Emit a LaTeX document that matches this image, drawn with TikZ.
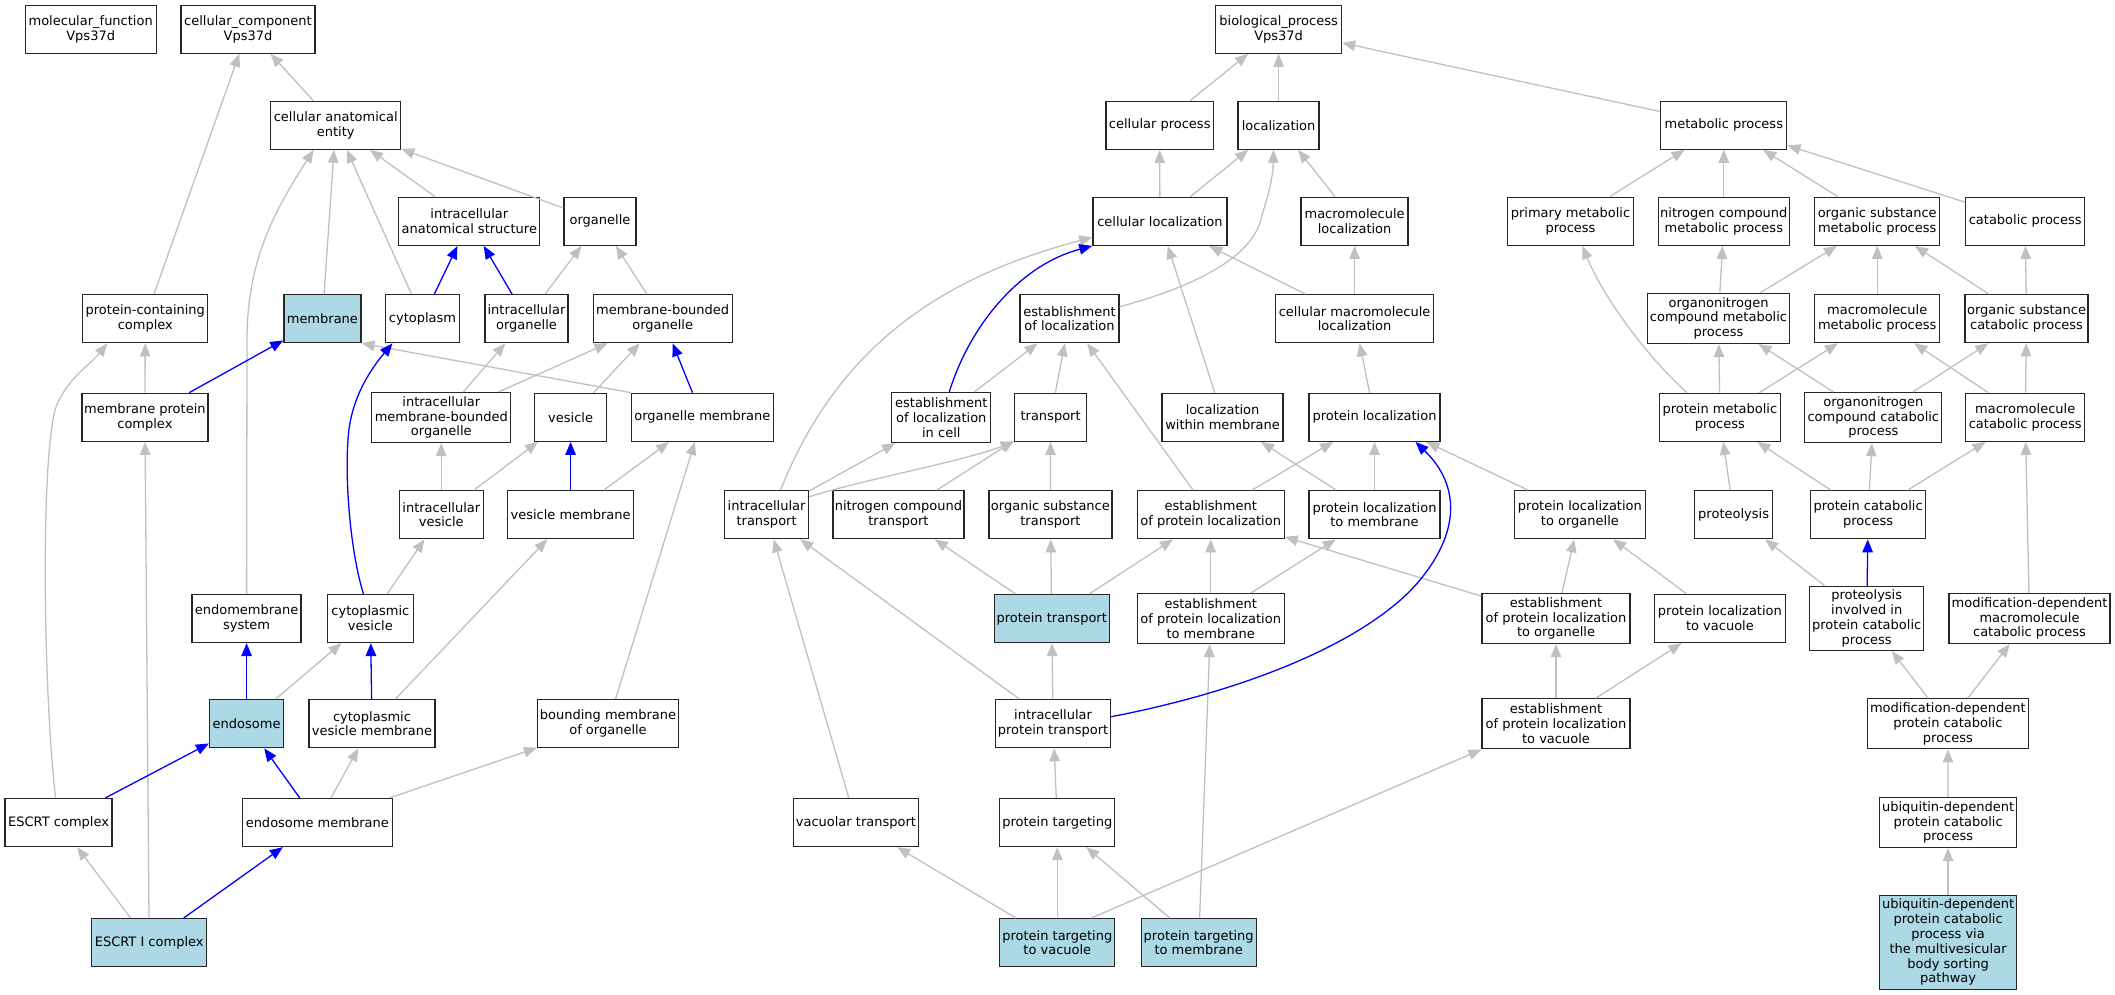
\documentclass[tikz,border=0pt]{standalone}
\usepackage{fontspec}
\setmainfont{DejaVu Sans}
\usetikzlibrary{arrows.meta}
\definecolor{edgegray}{RGB}{192,192,192}
\definecolor{hilite}{RGB}{173,216,230}
\begin{document}
\begin{tikzpicture}[x=1pt,y=-1pt,
  nd/.style={draw=black!85, line width=1.3pt, fill=white, align=center, inner sep=1.5pt,
     font=\fontsize{13}{14.8}\selectfont, minimum height=48pt, rectangle},
  hl/.style={nd, fill=hilite},
  ge/.style={draw=edgegray, line width=1.3pt, -{Triangle[length=13pt,width=10.5pt]}},
  be/.style={draw=blue, line width=1.3pt, -{Triangle[length=13pt,width=10.5pt]}}]
\fill[white] (0,0) rectangle (2115,995);
\useasboundingbox (0,0) rectangle (2115,995);

% ---------- cellular component ----------
\node[nd, minimum width=131pt] (mf) at (90.7,29.2) {molecular\_function\\Vps37d};
\node[nd, minimum width=134pt] (cc) at (248,29.2) {cellular\_component\\Vps37d};
\node[nd, minimum width=130pt] (cae) at (335.7,125.2) {cellular anatomical\\entity};
\node[nd, minimum width=141pt] (ias) at (469.3,221.3) {intracellular\\anatomical structure};
\node[nd, minimum width=72pt] (org) at (600,221.3) {organelle};
\node[nd, minimum width=125pt] (pcc) at (145.3,318.7) {protein-containing\\complex};
\node[hl, minimum width=77pt] (mem) at (322.4,318.7) {membrane};
\node[nd, minimum width=74pt] (cyt) at (422.5,318.7) {cytoplasm};
\node[nd, minimum width=83pt] (io) at (526.5,318.7) {intracellular\\organelle};
\node[nd, minimum width=139pt] (mbo) at (662.7,318.7) {membrane-bounded\\organelle};
\node[nd, minimum width=126pt] (mpc) at (144.9,417.3) {membrane protein\\complex};
\node[nd, minimum width=139pt, minimum height=50pt] (imbo) at (441.3,417.5) {intracellular\\membrane-bounded\\organelle};
\node[nd, minimum width=72pt] (ves) at (570.6,417.3) {vesicle};
\node[nd, minimum width=142pt] (om) at (702.4,417.3) {organelle membrane};
\node[nd, minimum width=84pt] (iv) at (441.3,514.7) {intracellular\\vesicle};
\node[nd, minimum width=126pt] (vm) at (570.6,514.7) {vesicle membrane};
\node[nd, minimum width=109pt] (ems) at (246.6,618.5) {endomembrane\\system};
\node[nd, minimum width=86pt] (cv) at (370.4,618.5) {cytoplasmic\\vesicle};
\node[hl, minimum width=74pt] (endo) at (246.6,723.7) {endosome};
\node[nd, minimum width=126pt] (cvm) at (372,723.7) {cytoplasmic\\vesicle membrane};
\node[nd, minimum width=141pt] (bmo) at (608,723.7) {bounding membrane\\of organelle};
\node[nd, minimum width=107pt] (escrt) at (58.6,822.5) {ESCRT complex};
\node[nd, minimum width=150pt] (em) at (317.3,822.5) {endosome membrane};
\node[hl, minimum width=115pt] (escrti) at (149.2,942.7) {ESCRT I complex};

% ---------- biological process ----------
\node[nd, minimum width=126pt] (bp) at (1278.6,29.2) {biological\_process\\Vps37d};
\node[nd, minimum width=107.5pt] (cp) at (1159.7,125.2) {cellular process};
\node[nd, minimum width=81pt] (loc) at (1278.6,125.2) {localization};
\node[nd, minimum width=126pt] (mp) at (1723.8,125.2) {metabolic process};
\node[nd, minimum width=134pt] (cl) at (1159.9,221.3) {cellular localization};
\node[nd, minimum width=107pt] (ml) at (1354.6,221.3) {macromolecule\\localization};
\node[nd, minimum width=126pt] (pmp) at (1570.5,221.3) {primary metabolic\\process};
\node[nd, minimum width=131pt] (ncmp) at (1723.8,221.3) {nitrogen compound\\metabolic process};
\node[nd, minimum width=125pt] (osmp) at (1877.2,221.3) {organic substance\\metabolic process};
\node[nd, minimum width=119pt] (catp) at (2025.2,221.3) {catabolic process};
\node[nd, minimum width=99pt] (eol) at (1069.5,318.7) {establishment\\of localization};
\node[nd, minimum width=158pt] (cmacl) at (1354.6,318.7) {cellular macromolecule\\localization};
\node[nd, minimum width=142pt, minimum height=50pt] (oncmp) at (1718.5,318.3) {organonitrogen\\compound metabolic\\process};
\node[nd, minimum width=125pt] (mmp) at (1877.2,318.7) {macromolecule\\metabolic process};
\node[nd, minimum width=123pt] (oscp) at (2026.5,318.7) {organic substance\\catabolic process};
\node[nd, minimum width=99pt, minimum height=50pt] (eolic) at (941.3,417.5) {establishment\\of localization\\in cell};
\node[nd, minimum width=72pt] (tr) at (1050.6,417.3) {transport};
\node[nd, minimum width=121pt] (lwm) at (1222.6,417.3) {localization\\within membrane};
\node[nd, minimum width=131pt] (pl) at (1374.5,417.3) {protein localization};
\node[nd, minimum width=121pt] (prmp) at (1719.9,417.3) {protein metabolic\\process};
\node[nd, minimum width=137pt, minimum height=50pt] (onccp) at (1873.3,417.5) {organonitrogen\\compound catabolic\\process};
\node[nd, minimum width=119pt] (mcp) at (2025.2,417.3) {macromolecule\\catabolic process};
\node[nd, minimum width=84pt] (it) at (766.6,514.7) {intracellular\\transport};
\node[nd, minimum width=131pt] (nct) at (898.4,514.7) {nitrogen compound\\transport};
\node[nd, minimum width=123pt] (ost) at (1050.4,514.7) {organic substance\\transport};
\node[nd, minimum width=147pt] (eopl) at (1210.7,514.7) {establishment\\of protein localization};
\node[nd, minimum width=131pt] (pltm) at (1374.5,514.7) {protein localization\\to membrane};
\node[nd, minimum width=131pt] (plto) at (1579.9,514.7) {protein localization\\to organelle};
\node[nd, minimum width=78pt] (prot) at (1733.6,514.7) {proteolysis};
\node[nd, minimum width=115pt] (pcp) at (1868.1,514.7) {protein catabolic\\process};
\node[hl, minimum width=115pt] (pt) at (1051.7,618.5) {protein transport};
\node[nd, minimum width=147pt, minimum height=50pt] (eopltm) at (1210.7,618.5) {establishment\\of protein localization\\to membrane};
\node[nd, minimum width=148pt, minimum height=50pt] (eoplto) at (1556,618.5) {establishment\\of protein localization\\to organelle};
\node[nd, minimum width=131pt] (pltv) at (1719.9,618.5) {protein localization\\to vacuole};
\node[nd, minimum width=114pt, minimum height=64pt] (pipcp) at (1866.7,618.5) {proteolysis\\involved in\\protein catabolic\\process};
\node[nd, minimum width=161pt, minimum height=50pt] (mdmcp) at (2029.5,618.5) {modification-dependent\\macromolecule\\catabolic process};
\node[nd, minimum width=115pt] (ipt) at (1053.1,723.7) {intracellular\\protein transport};
\node[nd, minimum width=148pt, minimum height=50pt] (eopltv) at (1556,723.8) {establishment\\of protein localization\\to vacuole};
\node[nd, minimum width=161pt, minimum height=50pt] (mdpcp) at (1947.9,723.8) {modification-dependent\\protein catabolic\\process};
\node[nd, minimum width=125pt] (vt) at (855.9,822.5) {vacuolar transport};
\node[nd, minimum width=115pt] (ptg) at (1057.3,822.5) {protein targeting};
\node[nd, minimum width=137pt, minimum height=50pt] (udpcp) at (1948.1,822.5) {ubiquitin-dependent\\protein catabolic\\process};
\node[hl, minimum width=115pt] (ptv) at (1057.3,942.7) {protein targeting\\to vacuole};
\node[hl, minimum width=115pt] (ptm) at (1198.7,942.7) {protein targeting\\to membrane};
\node[hl, minimum width=137pt, minimum height=94pt] (mvb) at (1948.1,942.3) {ubiquitin-dependent\\protein catabolic\\process via\\the multivesicular\\body sorting\\pathway};

% ---------- edges: cellular component ----------
\draw[ge] (cae) -- (cc);
\draw[ge] (pcc) -- (cc);
\draw[ge] (ias) -- (cae);
\draw[ge] (org) -- (cae);
\draw[ge] (mem) -- (cae);
\draw[ge] (cyt) -- (cae);
\draw[ge] (ems.north) -- (247,340) .. controls (247,260) and (275,210) .. ([xshift=-22pt]cae.south);
\draw[ge] (io) -- (org);
\draw[ge] (mbo) -- (org);
\draw[ge] (mpc) -- (pcc);
\draw[ge] ([xshift=-3pt]escrt.north) .. controls (44,700) and (40,470) .. (55,410) .. controls (65,380) and (90,365) .. ([xshift=-38pt]pcc.south);
\draw[ge] (om.north west) -- (mem.south east);
\draw[ge] (imbo) -- (io);
\draw[ge] (imbo) -- (mbo);
\draw[ge] (ves) -- (mbo);
\draw[ge] (iv) -- (imbo);
\draw[ge] (iv) -- (ves);
\draw[ge] (vm) -- (om);
\draw[ge] (bmo) -- (om);
\draw[ge] (cv) -- (iv);
\draw[ge] (endo) -- (cv);
\draw[ge] (cvm) -- (vm);
\draw[ge] (em) -- (cvm);
\draw[ge] (em) -- (bmo);
\draw[ge] (escrti) -- (escrt);
\draw[ge] (escrti) -- (mpc);
\draw[be] (cyt) -- (ias);
\draw[be] (io) -- (ias);
\draw[be] (mpc) -- (mem);
\draw[be] ([xshift=-7pt]cv.north) .. controls (350,550) and (345,480) .. (348,440) .. controls (350,400) and (370,370) .. ([xshift=-30pt]cyt.south);
\draw[be] (om) -- (mbo);
\draw[be] (vm) -- (ves);
\draw[be] (endo) -- (ems);
\draw[be] (cvm) -- (cv);
\draw[be] (escrt) -- (endo);
\draw[be] (em) -- (endo);
\draw[be] (escrti) -- (em);

% ---------- edges: biological process ----------
\draw[ge] (cp) -- (bp);
\draw[ge] (loc) -- (bp);
\draw[ge] (mp) -- (bp);
\draw[ge] (cl) -- (cp);
\draw[ge] (cl) -- (loc);
\draw[ge] ([yshift=12pt]eol.east) .. controls (1200,285) and (1255,255) .. (1262,215) .. controls (1270,190) and (1273,175) .. ([xshift=-5pt]loc.south);
\draw[ge] (ml) -- (loc);
\draw[ge] (cmacl) -- (cl);
\draw[ge] (cmacl) -- (ml);
\draw[ge] ([xshift=14pt]it.north) .. controls (840,340) and (950,275) .. ([yshift=-16pt]cl.west);
\draw[ge] (lwm) -- (cl);
\draw[ge] (eolic) -- (eol);
\draw[ge] (tr) -- (eol);
\draw[ge] (eopl) -- (eol);
\draw[ge] (pl) -- (cmacl);
\draw[ge] (it) -- (eolic);
\draw[ge] ([yshift=18pt]it.east) .. controls (870,478) and (960,462) .. (tr.south west);
\draw[ge] (nct) -- (tr);
\draw[ge] (ost) -- (tr);
\draw[ge] (eopl) -- (pl);
\draw[ge] (pltm) -- (lwm);
\draw[ge] (pltm) -- (pl);
\draw[ge] (plto) -- (pl);
\draw[ge] (pt) -- (nct);
\draw[ge] (pt) -- (ost);
\draw[ge] (pt) -- (eopl);
\draw[ge] (ipt) -- (it);
\draw[ge] (ipt) -- (pt);
\draw[ge] (vt) -- (it);
\draw[ge] (eopltm) -- (eopl);
\draw[ge] (eopltm) -- (pltm);
\draw[ge] (eoplto) -- (eopl);
\draw[ge] (ptg) -- (ipt);
\draw[ge] (ptv) -- (vt);
\draw[ge] (ptv) -- (ptg);
\draw[ge] ([xshift=34pt]ptv.north) -- (eopltv.south west);
\draw[ge] (ptm) -- (ptg);
\draw[ge] (ptm) -- (eopltm);
\draw[ge] (eoplto) -- (plto);
\draw[ge] (pltv) -- (plto);
\draw[ge] (eopltv) -- (eoplto);
\draw[ge] (eopltv) -- (pltv);
\draw[be] ([xshift=8pt]eolic.north) .. controls (970,325) and (1020,265) .. (cl.south west);
\draw[be] ([yshift=7pt]ipt.east) .. controls (1250,690) and (1370,640) .. (1420,580) .. controls (1465,525) and (1455,480) .. ([xshift=41pt]pl.south);

% ---------- edges: metabolic ----------
\draw[ge] (pmp) -- (mp);
\draw[ge] (ncmp) -- (mp);
\draw[ge] (osmp) -- (mp);
\draw[ge] (catp) -- (mp);
\draw[ge] (oncmp) -- (ncmp);
\draw[ge] (oncmp) -- (osmp);
\draw[ge] (mmp) -- (osmp);
\draw[ge] (oscp) -- (osmp);
\draw[ge] (oscp) -- (catp);
\draw[ge] ([xshift=-33pt]prmp.north) .. controls (1640,350) and (1600,290) .. ([xshift=12pt]pmp.south);
\draw[ge] (prmp) -- (oncmp);
\draw[ge] (prmp) -- (mmp);
\draw[ge] (onccp) -- (oncmp);
\draw[ge] (onccp) -- (oscp);
\draw[ge] (mcp) -- (mmp);
\draw[ge] (mcp) -- (oscp);
\draw[ge] (prot) -- (prmp);
\draw[ge] (pcp) -- (prmp);
\draw[ge] (pcp) -- (onccp);
\draw[ge] (pcp) -- (mcp);
\draw[ge] (mdmcp) -- (mcp);
\draw[ge] (pipcp) -- (prot);
\draw[ge] (mdpcp) -- (pipcp);
\draw[ge] (mdpcp) -- (mdmcp);
\draw[ge] (udpcp) -- (mdpcp);
\draw[ge] (mvb) -- (udpcp);
\draw[be] (pipcp) -- (pcp);
\end{tikzpicture}
\end{document}
